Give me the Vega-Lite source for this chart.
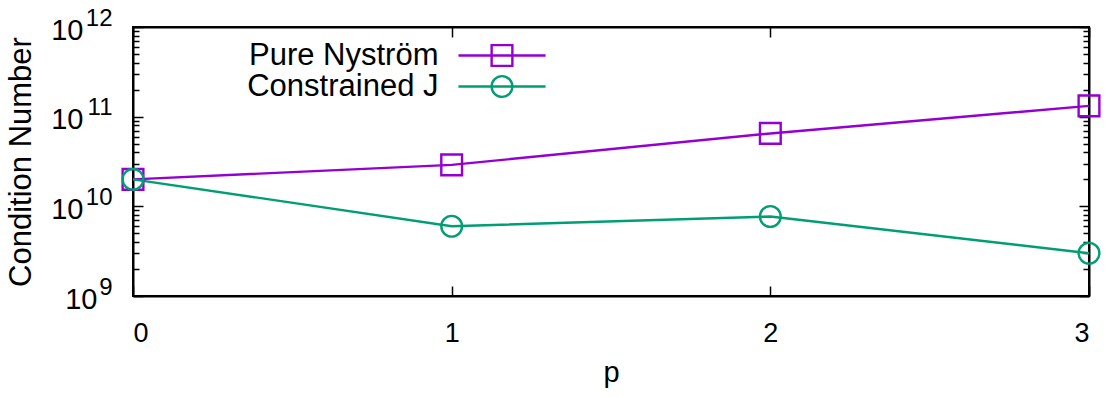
{
  "$schema": "https://vega.github.io/schema/vega-lite/v6.json",
  "width": 956,
  "height": 269,
  "autosize": "none",
  "padding": {"left": 133, "top": 27, "right": 21, "bottom": 102},
  "background": "white",
  "config": {
    "font": "Liberation Sans",
    "view": {"stroke": "black", "strokeWidth": 2},
    "axis": {
      "domainColor": "black", "domainWidth": 2, "tickColor": "black", "tickWidth": 1.5,
      "labelColor": "black", "titleColor": "black", "labelFont": "Liberation Sans",
      "titleFont": "Liberation Sans", "titleFontWeight": "normal", "grid": false,
      "labelFontSize": 27, "titleFontSize": 31
    }
  },
  "data": {
    "values": [
      {"p": 0, "series": "Pure Nyström", "value": 2.0e10},
      {"p": 1, "series": "Pure Nyström", "value": 2.9e10},
      {"p": 2, "series": "Pure Nyström", "value": 6.5e10},
      {"p": 3, "series": "Pure Nyström", "value": 1.32e11},
      {"p": 0, "series": "Constrained J", "value": 2.0e10},
      {"p": 1, "series": "Constrained J", "value": 6.0e9},
      {"p": 2, "series": "Constrained J", "value": 7.7e9},
      {"p": 3, "series": "Constrained J", "value": 3.0e9}
    ]
  },
  "layer": [
    {
      "mark": {"type": "line", "strokeWidth": 2.4},
      "encoding": {
        "x": {"field": "p", "type": "quantitative", "scale": {"domain": [0, 3], "nice": false},
              "axis": {"orient": "bottom", "values": [0, 1, 2, 3], "tickSize": -10, "labelPadding": 34, "title": "p", "titlePadding": 12, "format": "d", "titleFontSize": 29}},
        "y": {"field": "value", "type": "quantitative", "scale": {"type": "log", "domain": [1e9, 1e12], "nice": false},
              "axis": {"orient": "left", "values": [1e9, 1e10, 1e11, 1e12], "tickSize": -10, "labelPadding": 60, "labelFontSize": 29, "labelOffset": 3,
                       "labelExpr": "datum.value < 5e9 ? '' : '10'",
                       "title": "Condition Number", "titlePadding": 13}},
        "color": {"field": "series", "type": "nominal",
                  "scale": {"domain": ["Pure Nyström", "Constrained J"], "range": ["#9400d3", "#009e73"]},
                  "legend": {
                    "title": null, "orient": "none", "legendX": 353.5, "legendY": 13,
                    "labelFontSize": 31, "labelFont": "Liberation Sans", "labelColor": "black", "labelLimit": 0,
                    "labelAlign": "right", "labelOffset": -79, "symbolSize": 430, "symbolStrokeWidth": 2.4,
                    "rowPadding": -8, "padding": 0,
                    "encode": {"symbols": {"update": {
                      "shape": {"signal": "datum.value === 'Pure Nyström' ? 'M-4.2,0L4.2,0M-1,-1L1,-1L1,1L-1,1Z' : 'M-4.2,0L4.2,0M1,0A1,1,0,1,1,-1,0A1,1,0,1,1,1,0Z'"},
                      "fill": {"value": "transparent"}}}}
                  }}
      }
    },
    {
      "transform": [{"filter": "datum.series === 'Pure Nyström'"}],
      "mark": {"type": "point", "shape": "square", "filled": false, "size": 430, "strokeWidth": 2.4, "opacity": 1},
      "encoding": {
        "x": {"field": "p", "type": "quantitative", "scale": {"domain": [0, 3], "nice": false},
              "axis": {"orient": "top", "values": [0, 1, 2, 3], "tickSize": -10, "labels": false, "title": null}},
        "y": {"field": "value", "type": "quantitative", "scale": {"type": "log", "domain": [1e9, 1e12], "nice": false},
              "axis": {"orient": "right", "values": [1e9, 1e10, 1e11, 1e12], "tickSize": -10, "labels": false, "title": null}},
        "color": {"field": "series", "type": "nominal",
                  "scale": {"domain": ["Pure Nyström", "Constrained J"], "range": ["#9400d3", "#009e73"]}}
      }
    },
    {
      "transform": [{"filter": "datum.series === 'Constrained J'"}],
      "mark": {"type": "point", "shape": "circle", "filled": false, "size": 430, "strokeWidth": 2.4, "opacity": 1},
      "encoding": {
        "x": {"field": "p", "type": "quantitative", "scale": {"domain": [0, 3], "nice": false}, "axis": null},
        "y": {"field": "value", "type": "quantitative", "scale": {"type": "log", "domain": [1e9, 1e12], "nice": false},
              "axis": {"orient": "left", "values": [2e9, 3e9, 4e9, 5e9, 6e9, 7e9, 8e9, 9e9, 2e10, 3e10, 4e10, 5e10, 6e10, 7e10, 8e10, 9e10, 2e11, 3e11, 4e11, 5e11, 6e11, 7e11, 8e11, 9e11],
                       "tickSize": -6, "labels": false, "title": null, "domain": false}},
        "color": {"field": "series", "type": "nominal",
                  "scale": {"domain": ["Pure Nyström", "Constrained J"], "range": ["#9400d3", "#009e73"]}}
      }
    },
    {
      "mark": {"type": "point", "opacity": 0},
      "encoding": {
        "x": {"field": "p", "type": "quantitative", "scale": {"domain": [0, 3], "nice": false}, "axis": null},
        "y": {"field": "value", "type": "quantitative", "scale": {"type": "log", "domain": [1e9, 1e12], "nice": false},
              "axis": {"orient": "right", "values": [2e9, 3e9, 4e9, 5e9, 6e9, 7e9, 8e9, 9e9, 2e10, 3e10, 4e10, 5e10, 6e10, 7e10, 8e10, 9e10, 2e11, 3e11, 4e11, 5e11, 6e11, 7e11, 8e11, 9e11],
                       "tickSize": -6, "labels": false, "title": null, "domain": false}}
      }
    },
    {
      "mark": {"type": "point", "opacity": 0},
      "encoding": {
        "x": {"field": "p", "type": "quantitative", "scale": {"domain": [0, 3], "nice": false}, "axis": null},
        "y": {"field": "value", "type": "quantitative", "scale": {"type": "log", "domain": [1e9, 1e12], "nice": false},
              "axis": {"orient": "left", "values": [1e9, 1e10, 1e11, 1e12], "ticks": false, "domain": false, "labelPadding": 21,
                       "labelFontSize": 24, "labelOffset": -9, "title": null,
                       "labelExpr": "'' + round(log(datum.value)/LN10)"}}
      }
    },
    {
      "mark": {"type": "point", "opacity": 0},
      "encoding": {
        "x": {"field": "p", "type": "quantitative", "scale": {"domain": [0, 3], "nice": false}, "axis": null},
        "y": {"field": "value", "type": "quantitative", "scale": {"type": "log", "domain": [1e9, 1e12], "nice": false},
              "axis": {"orient": "left", "values": [1e9], "ticks": false, "domain": false, "labelPadding": 36,
                       "labelFontSize": 29, "labelOffset": 3, "title": null, "labelExpr": "'10'"}}
      }
    }
  ],
  "resolve": {"axis": {"x": "independent", "y": "independent"}}
}
